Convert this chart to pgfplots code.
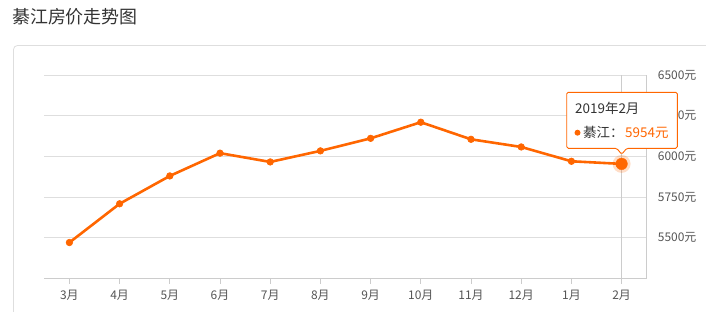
\documentclass[border=0pt]{standalone}
\usepackage{fontspec}
\setmainfont{Noto Sans CJK SC}
\usepackage{pgfplots}
\pgfplotsset{compat=1.18}
\definecolor{lineor}{HTML}{FF6600}
\definecolor{gridc}{HTML}{DEDEDE}
\definecolor{axc}{HTML}{CCCCCC}
\definecolor{txt}{HTML}{555555}
\definecolor{ttl}{HTML}{333333}
\begin{document}
\begin{tikzpicture}[x=1bp,y=1bp]
\path[use as bounding box] (0,0) rectangle (706,311);
\node[anchor=west, text=ttl, font=\fontsize{18}{20}\selectfont, inner sep=0] at (12,294) {綦江房价走势图};
\draw[gridc, line width=0.8bp, rounded corners=4bp] (13.5,-2) -- (13.5,265.5) -- (712,265.5);
\begin{axis}[
  at={(44.3bp,32.5bp)}, anchor=south west,
  width=602.4bp, height=203.5bp, scale only axis,
  xmin=-0.5, xmax=11.5, ymin=5250, ymax=6500,
  xtick={0,...,11},
  xticklabels={3月,4月,5月,6月,7月,8月,9月,10月,11月,12月,1月,2月},
  ytick={5500,5750,6000,6250,6500},
  yticklabels={5500元,5750元,6000元,6250元,6500元},
  axis x line*=bottom, axis y line*=right,
  x axis line style={draw=axc, line width=1.6bp, -},
  y axis line style={draw=axc, line width=0.8bp, -},
  tick align=outside, major tick length=5bp,
  xtick style={draw=axc, line width=0.8bp},
  ytick style={draw=none},
  ymajorgrids, grid style={gridc, line width=0.8bp},
  ticklabel style={font=\fontsize{12}{14}\selectfont, text=txt, inner sep=0},
  yticklabel style={anchor=west, xshift=6bp},
  xticklabel style={anchor=north, yshift=-6bp},
  clip=false,
]
\addplot[axc, line width=0.8bp] coordinates {(11,5250) (11,6500)};
\addplot[lineor, line width=2.6bp, mark=*, mark size=3.3bp, mark options={solid, fill=lineor, draw=lineor, line width=0.6bp}]
  coordinates {(0,5471) (1,5709) (2,5880) (3,6020) (4,5966) (5,6034) (6,6111) (7,6210) (8,6105) (9,6058) (10,5970) (11,5954)};
\addplot[lineor, only marks, mark=*, mark size=9bp, mark options={solid, fill=lineor, draw=lineor, draw opacity=0, fill opacity=0.22}] coordinates {(11,5954)};
\addplot[lineor, only marks, mark=*, mark size=5.8bp, mark options={solid, fill=lineor, draw=lineor, line width=0.4bp}] coordinates {(11,5954)};
\end{axis}
\draw[lineor, fill=white, line width=0.9bp, rounded corners=1.5bp]
  (566.7,218.7) -- (677.3,218.7) -- (677.3,162.7) -- (626.7,162.7) -- (621.7,156.7) -- (616.7,162.7) -- (566.7,162.7) -- cycle;
\node[anchor=west, inner sep=0, text=ttl, font=\fontsize{13.5}{15}\selectfont] at (575,202.7) {2019年2月};
\fill[lineor] (577.5,178.3) circle (3bp);
\node[anchor=west, inner sep=0, text=ttl, font=\fontsize{13.5}{15}\selectfont] at (583,178.3) {綦江：};
\node[anchor=west, inner sep=0, text=lineor, font=\fontsize{13.5}{15}\selectfont] at (625,178.3) {5954元};
\end{tikzpicture}
\end{document}
